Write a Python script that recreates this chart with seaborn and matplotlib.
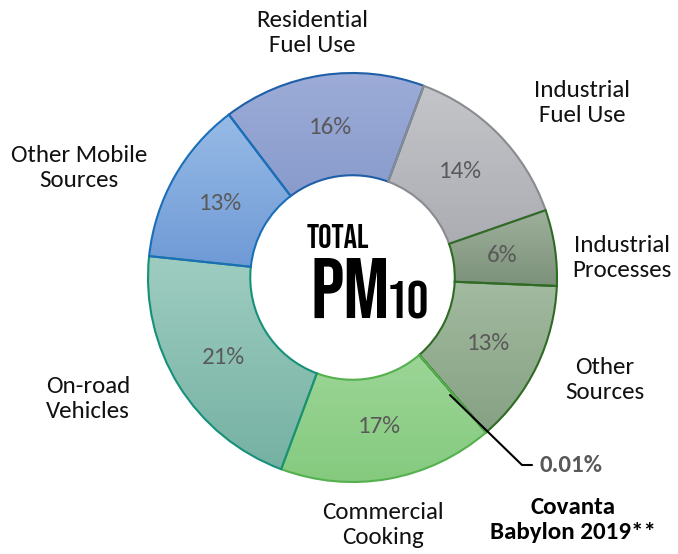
import numpy as np
import matplotlib
matplotlib.use("Agg")
import matplotlib.pyplot as plt
from matplotlib.colors import to_rgb
import seaborn as sns

sns.set_theme(style="white")
plt.rcParams["font.family"] = ["Carlito", "DejaVu Sans"]

# data (clockwise from Residential)
categories = ["Residential\nFuel Use", "Industrial\nFuel Use", "Industrial\nProcesses",
              "Other\nSources", "Covanta\nBabylon 2019**", "Commercial\nCooking",
              "On-road\nVehicles", "Other Mobile\nSources"]
shares = [16, 14, 6, 13, 0.01, 17, 21, 13]
pct_labels = ["16%", "14%", "6%", "13%", "0.01%", "17%", "21%", "13%"]

# styling
top_colors = ["#9dacd8", "#c4c5c9", "#9db09b", "#a3bba1", "#556b55", "#a9dca4", "#9ecdc0", "#97bbe6"]
bot_colors = ["#7c91c4", "#a7a8ae", "#7c917a", "#86a183", "#556b55", "#85ca7f", "#75b1a3", "#6d98d5"]
edge_colors = ["#1f5fa8", "#8a8b90", "#2f6b25", "#2f6b25", "#2f6b25", "#55b04e", "#17907a", "#1a6fb8"]
# label anchor points in pixel space (x, y from top)
label_pos = [(312, 33), (582, 103), (622, 258), (605, 380), None, (383, 525), (88, 399), (79, 168)]
title_font = ["Bebas Neue", "DejaVu Sans"]

W, H = 678, 554
cx, cy, R = 352.5, H - 277.5, 204.5


def px(x, y):
    return x, H - y


fig = plt.figure(figsize=(W / 100, H / 100), dpi=100)
ax = fig.add_axes([0, 0, 1, 1])

wedges, _ = ax.pie(shares, startangle=127.2, counterclock=False, radius=R, center=(cx, cy),
                   wedgeprops=dict(width=R * 0.5, linewidth=1.5))

# vertical gradient fill clipped to every wedge
for w, c0, c1, ec in zip(wedges, top_colors, bot_colors, edge_colors):
    w.set_facecolor("none")
    w.set_edgecolor(ec)
    w.set_zorder(3)
    v = w.get_path().vertices
    x0, x1 = v[:, 0].min(), v[:, 0].max()
    y0, y1 = v[:, 1].min(), v[:, 1].max()
    t = np.linspace(0, 1, 64)[:, None]
    grad = (1 - t) * np.array(to_rgb(c0)) + t * np.array(to_rgb(c1))
    im = ax.imshow(grad[:, None, :], extent=(x0, x1, y0, y1), origin="upper",
                   aspect="auto", zorder=2, interpolation="bilinear")
    im.set_clip_path(w)

# percentage labels inside the ring
for w, s, txt in zip(wedges, shares, pct_labels):
    if s < 1:
        continue
    ang = np.deg2rad((w.theta1 + w.theta2) / 2)
    r = R * 0.74
    ax.text(cx + r * np.cos(ang), cy + r * np.sin(ang), txt, ha="center", va="center",
            fontsize=18, color="#595959", zorder=4)

# category labels
for lab, pos in zip(categories, label_pos):
    if pos is None:
        continue
    ax.text(*px(*pos), lab, ha="center", va="center", fontsize=18, color="#111111",
            linespacing=1.2)

# Covanta leader line and labels
ax.plot(*zip(px(450, 395), px(522, 465), px(532, 465)), color="black", lw=1.5, zorder=5)
ax.text(*px(540, 466), pct_labels[4], ha="left", va="center", fontsize=18,
        fontweight="bold", color="#595959")
ax.text(*px(573, 520), categories[4], ha="center", va="center", fontsize=18,
        fontweight="bold", color="black", linespacing=1.2)

# centre title
ax.text(*px(338, 236), "TOTAL", ha="center", va="center", fontsize=24,
        family=title_font, color="black")
ax.text(*px(350, 288), "PM", ha="center", va="center", fontsize=62,
        family=title_font, color="black")
ax.text(*px(386, 300), "10", ha="left", va="center", fontsize=39,
        family=title_font, color="black")

ax.set_xlim(0, W)
ax.set_ylim(0, H)
ax.set_aspect("equal")
ax.axis("off")

fig.savefig("out.png", dpi=100)
